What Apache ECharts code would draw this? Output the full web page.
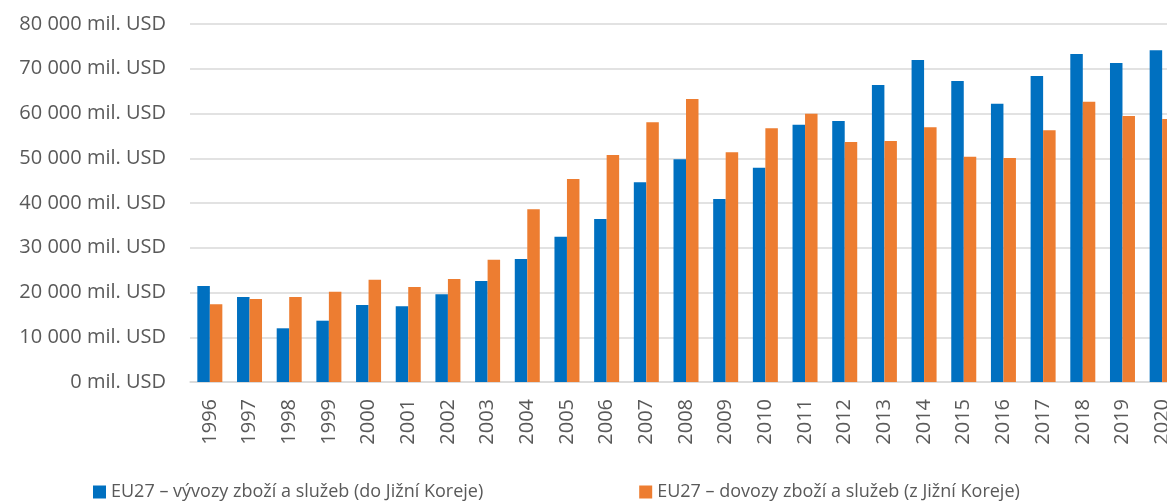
<!DOCTYPE html>
<html>
<head>
<meta charset="utf-8">
<script src="https://cdn.jsdelivr.net/npm/echarts@6/dist/echarts.min.js"></script>
<style>
  html, body { margin: 0; padding: 0; background: #fff; }
  #chart { width: 1167px; height: 503px; }
</style>
</head>
<body>
<div id="chart"></div>
<script>
// roky
const years = ['1996', '1997', '1998', '1999', '2000', '2001', '2002', '2003', '2004', '2005',
  '2006', '2007', '2008', '2009', '2010', '2011', '2012', '2013', '2014', '2015',
  '2016', '2017', '2018', '2019', '2020'];

// vývozy EU27 do Jižní Koreje (mil. USD)
const exportsKr = [21450, 18990, 12000, 13700, 17200, 16900, 19590, 22570, 27490, 32470,
  36420, 44620, 49760, 40890, 47890, 57500, 58320, 66370, 71950, 67260,
  62200, 68380, 73300, 71280, 74120];

// dovozy EU27 z Jižní Koreje (mil. USD)
const importsKr = [17360, 18550, 18990, 20180, 22860, 21230, 23020, 27330, 38590, 45360,
  50730, 58030, 63240, 51320, 56690, 59960, 53630, 53850, 56910, 50350,
  50060, 56240, 62640, 59440, 58770];

const seriesNames = [
  'EU27 – vývozy zboží a služeb (do Jižní Koreje)',
  'EU27 – dovozy zboží a služeb (z Jižní Koreje)'
];

const fontFamily = '"Open Sans", sans-serif';
const textColor = '#595959';

const formatUsd = (v) => {
  const s = String(v).replace(/\B(?=(\d{3})+(?!\d))/g, ' ');
  return s + ' mil. USD';
};

const chart = echarts.init(document.getElementById('chart'));
chart.setOption({
  animation: false,
  textStyle: { fontFamily: fontFamily },
  grid: {
    left: 190,
    width: 992,
    top: 24,
    height: 358,
    containLabel: false,
    outerBoundsMode: 'none'
  },
  legend: {
    data: seriesNames,
    left: 88,
    top: 478,
    icon: 'rect',
    itemWidth: 13,
    itemHeight: 13,
    itemGap: 156,
    textStyle: { fontSize: 18, color: textColor, fontFamily: fontFamily }
  },
  xAxis: {
    type: 'category',
    data: years,
    axisLine: { lineStyle: { color: '#d9d9d9', width: 1.5 } },
    axisTick: { show: false },
    axisLabel: {
      rotate: 90,
      interval: 0,
      margin: 17,
      fontSize: 20,
      color: textColor
    }
  },
  yAxis: {
    type: 'value',
    min: 0,
    max: 80000,
    interval: 10000,
    axisLine: { show: false },
    axisTick: { show: false },
    splitLine: { lineStyle: { color: '#d9d9d9', width: 1.5 } },
    axisLabel: {
      margin: 24,
      fontSize: 20,
      color: textColor,
      formatter: formatUsd
    }
  },
  series: [
    {
      name: seriesNames[0],
      type: 'bar',
      data: exportsKr,
      barGap: '0%',
      barCategoryGap: '37%',
      itemStyle: { color: '#0070c0' }
    },
    {
      name: seriesNames[1],
      type: 'bar',
      data: importsKr,
      barGap: '0%',
      barCategoryGap: '37%',
      itemStyle: { color: '#ed7d31' }
    }
  ]
});
</script>
</body>
</html>
